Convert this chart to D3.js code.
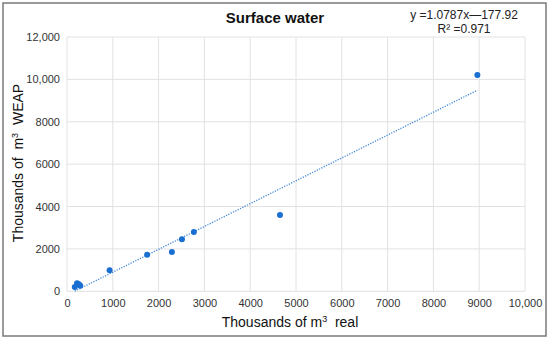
<!DOCTYPE html>
<html>
<head>
<meta charset="utf-8">
<script src="https://cdn.jsdelivr.net/npm/d3@7"></script>
<style>
  body { margin: 0; background: #fff; }
  svg text { font-family: "Liberation Sans", Arial, sans-serif; }
</style>
</head>
<body>
<div id="chart"></div>
<script>
// data (thousands of m3)
var realValues = [170, 220, 260, 290, 930, 1750, 2290, 2510, 2770, 4650, 8960];
var weapValues = [200, 380, 330, 260, 990, 1720, 1850, 2460, 2800, 3600, 10210];
var xTicks = [0, 1000, 2000, 3000, 4000, 5000, 6000, 7000, 8000, 9000, 10000];
var yTicks = [0, 2000, 4000, 6000, 8000, 10000, 12000];
var slope = 1.0787, intercept = -177.92;

var width = 550, height = 340;
var margin = {top: 37, right: 25, bottom: 48, left: 67};

var svg = d3.select("#chart").append("svg")
    .attr("width", width)
    .attr("height", height);

// outer frame
svg.append("rect")
    .attr("x", 3).attr("y", 3)
    .attr("width", 543).attr("height", 333)
    .style("fill", "#fff")
    .style("stroke", "#7a7a7a")
    .style("stroke-width", 1.5);

var x = d3.scaleLinear().domain([0, 10000]).range([margin.left, width - margin.right]);
var y = d3.scaleLinear().domain([0, 12000]).range([height - margin.bottom - 0.7, margin.top]);

function tickFmt(d) {
    return d >= 10000 ? d3.format(",")(d) : d3.format("d")(d);
}

// grid
var grid = svg.append("g").attr("class", "grid");
grid.selectAll(".gx").data(xTicks).enter().append("line")
    .attr("x1", function (d) { return x(d); })
    .attr("x2", function (d) { return x(d); })
    .attr("y1", y(0)).attr("y2", y(12000))
    .style("stroke", "#e2e2e2");
grid.selectAll(".gy").data(yTicks).enter().append("line")
    .attr("x1", x(0)).attr("x2", x(10000))
    .attr("y1", function (d) { return y(d); })
    .attr("y2", function (d) { return y(d); })
    .style("stroke", "#e2e2e2");

// axes (labels only)
var xAxis = svg.append("g")
    .attr("transform", "translate(0," + y(0) + ")")
    .call(d3.axisBottom(x).tickValues(xTicks).tickFormat(tickFmt).tickSize(0).tickPadding(8));
var yAxis = svg.append("g")
    .attr("transform", "translate(" + x(0) + ",0)")
    .call(d3.axisLeft(y).tickValues(yTicks).tickFormat(tickFmt).tickSize(0).tickPadding(7));
[xAxis, yAxis].forEach(function (a) {
    a.select(".domain").remove();
    a.selectAll("text")
        .style("font-family", "'Liberation Sans', Arial, sans-serif")
        .style("font-size", "11px")
        .style("fill", "#333");
});

// trendline
var xMin = d3.min(realValues), xMax = d3.max(realValues);
svg.append("line")
    .attr("x1", x(xMin)).attr("y1", y(slope * xMin + intercept))
    .attr("x2", x(xMax)).attr("y2", y(slope * xMax + intercept))
    .style("stroke", "#3f86d8")
    .style("stroke-width", 1.3)
    .style("stroke-dasharray", "1.2,1.4");

// points
svg.selectAll(".dot").data(realValues).enter().append("circle")
    .attr("class", "dot")
    .attr("cx", function (d) { return x(d); })
    .attr("cy", function (d, i) { return y(weapValues[i]); })
    .attr("r", 3)
    .style("fill", "#1a6fd1");

// title
svg.append("text")
    .attr("x", 275).attr("y", 23)
    .attr("text-anchor", "middle")
    .style("font-size", "15px")
    .style("font-weight", "bold")
    .style("fill", "#111")
    .text("Surface water");

// equation
svg.append("text")
    .attr("x", 464).attr("y", 19)
    .attr("text-anchor", "middle")
    .style("font-size", "12px")
    .style("fill", "#222")
    .text("y =1.0787x\u2014177.92");
svg.append("text")
    .attr("x", 464).attr("y", 33)
    .attr("text-anchor", "middle")
    .style("font-size", "12px")
    .style("fill", "#222")
    .text("R\u00b2 =0.971");

// axis titles
var xt = svg.append("text")
    .attr("x", 290).attr("y", 327)
    .attr("text-anchor", "middle")
    .style("font-size", "14px")
    .style("fill", "#111");
xt.append("tspan").text("Thousands of m");
xt.append("tspan").attr("dy", -5).style("font-size", "9px").text("3");
xt.append("tspan").attr("dy", 5).text("\u00a0 real");

var yt = svg.append("text")
    .attr("transform", "translate(23,163) rotate(-90)")
    .attr("text-anchor", "middle")
    .style("font-size", "14px")
    .style("fill", "#111");
yt.append("tspan").text("Thousands of \u00a0m");
yt.append("tspan").attr("dy", -5).style("font-size", "9px").text("3");
yt.append("tspan").attr("dy", 5).text("\u00a0 WEAP");
</script>
</body>
</html>
